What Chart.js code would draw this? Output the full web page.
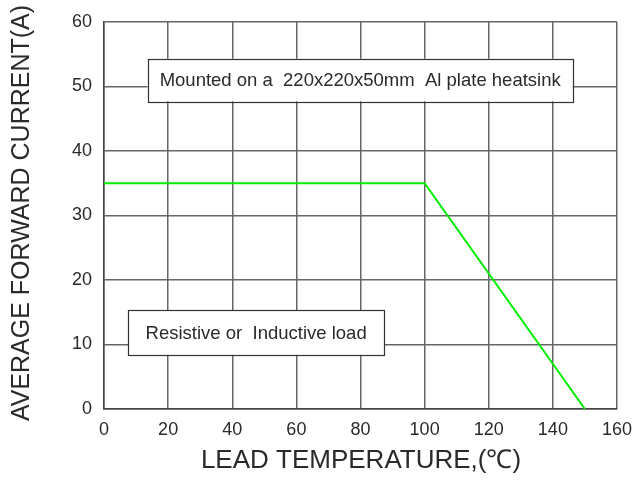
<!DOCTYPE html>
<html><head><meta charset="utf-8">
<script src="https://cdn.jsdelivr.net/npm/chart.js@4"></script>
<style>html,body{margin:0;padding:0;background:#fff}#wrap{width:633px;height:480px}</style>
</head><body><div id="wrap"><canvas id="c" width="633" height="480"></canvas></div>
<script>
const temps = [0, 100, 150];
const current = [35, 35, 0];
const xTicks = [0, 20, 40, 60, 80, 100, 120, 140, 160];
const yTicks = [0, 10, 20, 30, 40, 50, 60];
const xTitle = 'LEAD TEMPERATURE,(\u2103)';
const yTitle = 'AVERAGE FORWARD CURRENT(A)';
const notes = [
  {text: 'Mounted on a  220x220x50mm  Al plate heatsink', x1: 13.6, x2: 146.2, y1: 54.3, y2: 47.7},
  {text: 'Resistive or  Inductive load', x1: 7.5, x2: 87.4, y1: 15.3, y2: 8.4}
];
const FONT = '"Liberation Sans", Arial, sans-serif';
const TXT = '#2a2a2a';

const notesPlugin = {
  id: 'notes',
  afterDatasetsDraw(chart) {
    const ctx = chart.ctx, xs = chart.scales.x, ys = chart.scales.y;
    ctx.save();
    notes.forEach(n => {
      const l = xs.getPixelForValue(n.x1), r = xs.getPixelForValue(n.x2);
      const t = ys.getPixelForValue(n.y1), b = ys.getPixelForValue(n.y2);
      ctx.fillStyle = '#fff';
      ctx.fillRect(l, t, r - l, b - t);
      ctx.strokeStyle = '#333';
      ctx.lineWidth = 1.2;
      ctx.strokeRect(Math.round(l) + 0.5, Math.round(t) + 0.5, Math.round(r - l), Math.round(b - t));
      ctx.fillStyle = TXT;
      ctx.font = '18.5px ' + FONT;
      ctx.textAlign = 'center';
      ctx.textBaseline = 'middle';
      ctx.fillText(n.text, (l + r) / 2, (t + b) / 2 + 1);
    });
    // axis titles
    ctx.fillStyle = TXT;
    ctx.textAlign = 'center';
    ctx.textBaseline = 'middle';
    ctx.font = '26px ' + FONT;
    ctx.fillText(xTitle, 361, 461);
    ctx.save();
    ctx.translate(22, 213);
    ctx.rotate(-Math.PI / 2);
    ctx.font = '25px ' + FONT;
    ctx.fillText(yTitle, 0, 0);
    ctx.restore();
    ctx.restore();
  }
};

new Chart(document.getElementById('c'), {
  type: 'line',
  data: {
    datasets: [{
      data: temps.map((t, i) => ({x: t, y: current[i]})),
      borderColor: '#00ee00',
      borderWidth: 2,
      pointRadius: 0,
      tension: 0,
      fill: false
    }]
  },
  options: {
    responsive: false,
    animation: false,
    events: [],
    layout: {padding: {left: 0, top: 22, right: 16, bottom: 0}},
    plugins: {legend: {display: false}, tooltip: {enabled: false}},
    scales: {
      x: {
        type: 'linear', min: 0, max: 160,
        afterBuildTicks: s => { s.ticks = xTicks.map(v => ({value: v})); },
        afterFit: s => { s.height = 71; s.paddingRight = 0; s.paddingLeft = 0; },
        grid: {color: '#666', lineWidth: 1.5, drawTicks: false},
        border: {color: '#444', width: 1.5},
        ticks: {color: TXT, font: {family: FONT, size: 18}, padding: 10, maxRotation: 0},
        title: {display: false}
      },
      y: {
        type: 'linear', min: 0, max: 60,
        afterBuildTicks: s => { s.ticks = yTicks.map(v => ({value: v})); },
        afterFit: s => { s.width = 104; s.paddingTop = 0; s.paddingBottom = 0; },
        grid: {color: '#666', lineWidth: 1.5, drawTicks: false},
        border: {color: '#444', width: 1.5},
        ticks: {color: TXT, font: {family: FONT, size: 18}, padding: 12},
        title: {display: false}
      }
    }
  },
  plugins: [notesPlugin]
});
</script></body></html>
